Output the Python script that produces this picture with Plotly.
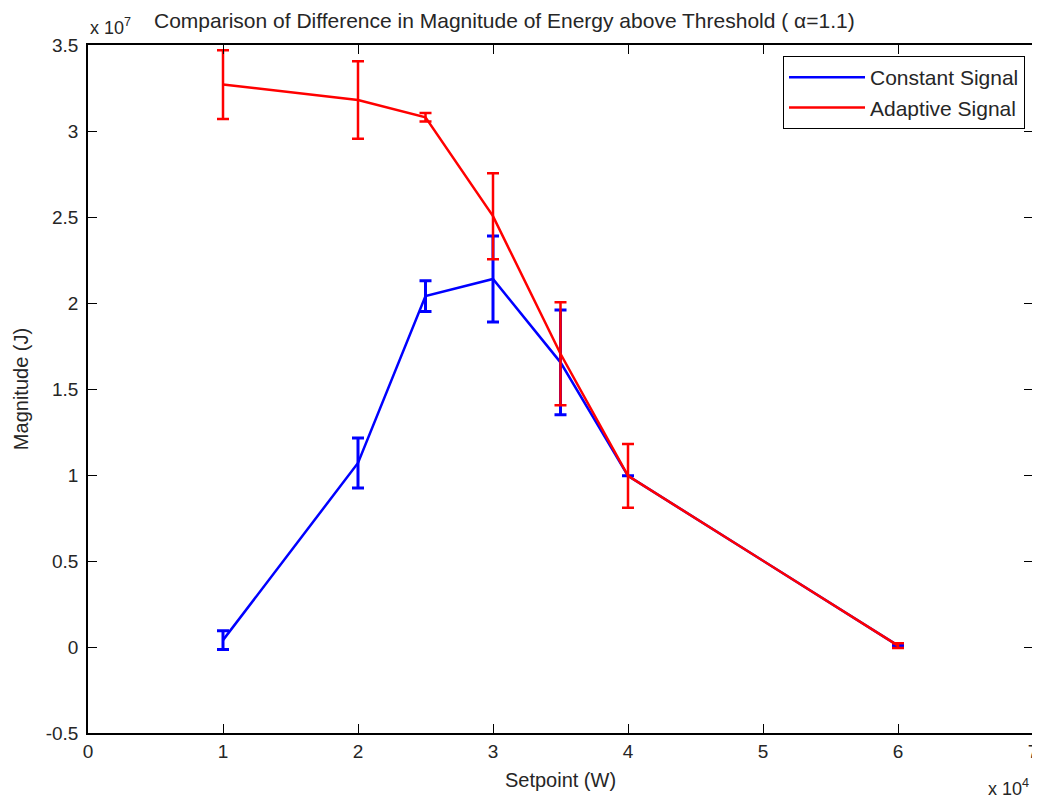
import plotly.graph_objects as go

# Data (x in W, y in J)
setpoints = [10000, 20000, 25000, 30000, 35000, 40000, 60000]
constant_vals = [0.04e7, 1.07e7, 2.04e7, 2.14e7, 1.655e7, 0.995e7, 0.008e7]
constant_err = [0.055e7, 0.145e7, 0.09e7, 0.25e7, 0.305e7, 0.0, 0.0]
adaptive_vals = [3.27e7, 3.18e7, 3.08e7, 2.505e7, 1.705e7, 0.995e7, 0.008e7]
adaptive_err = [0.20e7, 0.225e7, 0.025e7, 0.25e7, 0.30e7, 0.185e7, 0.014e7]

x_tickvals = [0, 10000, 20000, 30000, 40000, 50000, 60000, 70000]
x_ticktext = ["0", "1", "2", "3", "4", "5", "6", "7"]
y_tickvals = [-0.5e7, 0, 0.5e7, 1e7, 1.5e7, 2e7, 2.5e7, 3e7, 3.5e7]
y_ticktext = ["-0.5", "0", "0.5", "1", "1.5", "2", "2.5", "3", "3.5"]

FONT = "Liberation Sans, Arial, sans-serif"
TXT = "#262626"

fig = go.Figure()
fig.add_trace(go.Scatter(
    x=setpoints, y=constant_vals, mode="lines", name="Constant Signal",
    line=dict(color="#0000FF", width=2.5),
    error_y=dict(type="data", array=constant_err, visible=True,
                 color="#0000FF", thickness=3, width=6),
))
fig.add_trace(go.Scatter(
    x=setpoints, y=adaptive_vals, mode="lines", name="Adaptive Signal",
    line=dict(color="#FF0000", width=2.5),
    error_y=dict(type="data", array=adaptive_err, visible=True,
                 color="#FF0000", thickness=2.5, width=6),
))

axis_common = dict(
    showgrid=False, zeroline=False, showline=True, linecolor="#000000",
    linewidth=1.5, mirror="ticks", ticks="inside", ticklen=9,
    tickwidth=1, tickcolor="#000000", automargin=False,
    tickfont=dict(family=FONT, size=19, color=TXT),
)

# The page body has an 8px margin, so the figure is sized to compensate.
fig.update_layout(
    width=1032, height=795,
    margin=dict(l=80, r=7, t=37, b=70, autoexpand=False),
    paper_bgcolor="#FFFFFF", plot_bgcolor="#FFFFFF",
    font=dict(family=FONT, size=19, color=TXT),
    xaxis=dict(range=[0, 70000], tickvals=x_tickvals, ticktext=x_ticktext,
               title=dict(text="Setpoint (W)", font=dict(family=FONT, size=20, color=TXT), standoff=12),
               **axis_common),
    yaxis=dict(range=[-0.5e7, 3.5e7], tickvals=y_tickvals, ticktext=y_ticktext,
               ticklabelstandoff=4,
               title=dict(text="Magnitude (J)", font=dict(family=FONT, size=20, color=TXT), standoff=12),
               **axis_common),
    showlegend=True,
    legend=dict(x=(1025 - 88) / 945, y=1 - (56 - 45) / 688, xanchor="right", yanchor="top",
                bgcolor="#FFFFFF", bordercolor="#000000", borderwidth=1,
                font=dict(family=FONT, size=21, color=TXT),
                itemwidth=76, tracegroupgap=0),
    annotations=[
        dict(text="Comparison of Difference in Magnitude of Energy above Threshold ( \u03b1=1.1)",
             xref="paper", yref="paper", x=(152 - 88) / 945, y=1 + 25 / 688,
             xanchor="left", yanchor="middle", showarrow=False,
             font=dict(family=FONT, size=21, color=TXT)),
        dict(text="x 10<sup>7</sup>", xref="paper", yref="paper", x=0, y=1 + 19 / 688,
             xanchor="left", yanchor="middle", showarrow=False,
             font=dict(family=FONT, size=18, color=TXT)),
        dict(text="x 10<sup>4</sup>", xref="paper", yref="paper", x=(1031 - 88) / 945, y=-54 / 688,
             xanchor="right", yanchor="middle", showarrow=False,
             font=dict(family=FONT, size=18, color=TXT)),
    ],
)

fig.write_html("out.html")
